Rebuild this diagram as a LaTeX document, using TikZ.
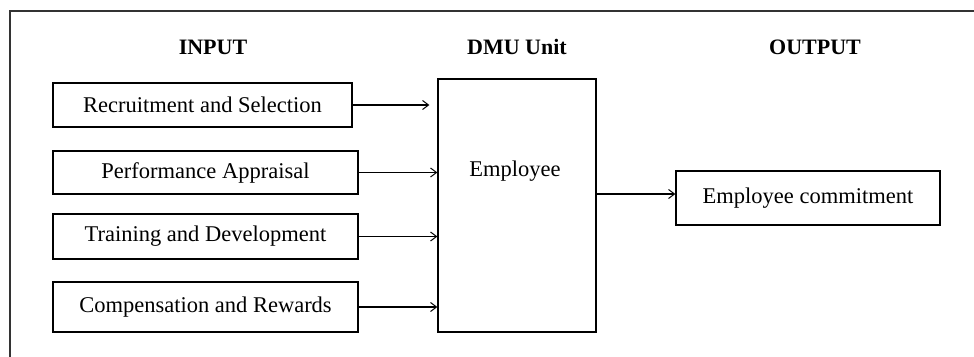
\documentclass[tikz,border=0pt]{standalone}
\usepackage{fontspec}
\setmainfont{Liberation Serif}
\usetikzlibrary{arrows.meta}
\begin{document}
\begin{tikzpicture}[x=1pt,y=-1pt,
  box/.style={draw,line width=1.3pt,rectangle,inner sep=0pt,font=\fontsize{22.5}{26}\selectfont},
  head/.style={font=\fontsize{22}{26}\selectfont\bfseries},
  flow/.style={line width=1.3pt,-{Straight Barb[length=6pt,width=9pt,line width=1pt]}}]
\useasboundingbox (0,0) rectangle (974,356);
% outer frame (its right and bottom sides run past the page)
\draw[line width=1.5pt,black!80] (10,360) -- (10,11) -- (980,11);
% column headings
\node[head] (hin)  at (213,47) {INPUT};
\node[head] (hdmu) at (517,47) {DMU Unit};
\node[head] (hout) at (815,47) {OUTPUT};
% input boxes
\node[box,minimum width=299pt,minimum height=44pt] (rs) at (202.5,105) {Recruitment and Selection};
\node[box,minimum width=305pt,minimum height=43pt] (pa) at (205.5,172.5) {Performance Appraisal};
\node[box,minimum width=305pt,minimum height=45pt] (td) at (205.5,236.5) {Training and Development};
\node[box,minimum width=305pt,minimum height=50pt] (cr) at (205.5,307) {Compensation and Rewards};
% decision making unit
\node[box,minimum width=158pt,minimum height=253pt] (emp) at (517,205.5) {};
\node[font=\fontsize{22.5}{26}\selectfont] (emptext) at (515,171) {Employee};
% output box
\node[box,minimum width=264pt,minimum height=54pt] (out) at (808,198) {Employee commitment};
% connectors
\draw[flow,shorten >=8pt] (rs.east) -- (rs.east -| emp.west);
\draw[flow] (pa.east) -- (pa.east -| emp.west);
\draw[flow] (td.east) -- (td.east -| emp.west);
\draw[flow] (cr.east) -- (cr.east -| emp.west);
\draw[flow] ([yshift=4pt]out.west -| emp.east) -- ([yshift=4pt]out.west);
\end{tikzpicture}
\end{document}
